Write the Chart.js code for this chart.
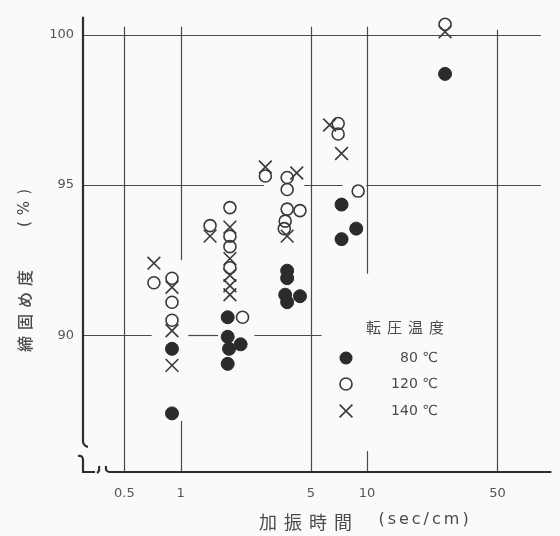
<!DOCTYPE html>
<html><head><meta charset="utf-8">
<script src="https://cdn.jsdelivr.net/npm/chart.js@4.4.1/dist/chart.umd.min.js"></script>
<style>html,body{margin:0;padding:0;background:#fafaf8;} canvas{display:block;}</style>
</head><body>
<canvas id="c" width="560" height="536"></canvas>
<script>
// ---- data ----
const xTicks = [0.5, 1, 5, 10, 50];
const xTickLabels = ['0.5', '1', '5', '10', '50'];
const yTicks = [90, 95, 100];
const yTickLabels = ['90', '95', '100'];
const seriesNames = ['80 ℃', '120 ℃', '140 ℃'];
const legendTitle = '転圧温度';
const xTitleMain = '加振時間';
const xTitleUnit = '(sec/cm)';
const yTitleMain = '締固め度';
const yTitleUnit = '(%)';

const x80 = [0.9, 0.9, 1.79, 1.79, 2.1, 1.82, 1.79, 3.73, 3.73, 3.64, 4.37, 3.73, 7.3, 8.75, 7.3, 26.2];
const y80 = [87.4, 89.55, 90.6, 89.95, 89.7, 89.55, 89.05, 92.15, 91.9, 91.35, 91.3, 91.1, 94.35, 93.55, 93.2, 98.7];

const x120 = [0.72, 0.9, 0.9, 0.9, 1.44, 1.84, 1.84, 1.84, 1.84, 2.15, 2.85, 3.73, 3.73, 3.73, 4.37, 3.64, 3.6, 7.0, 7.0, 8.96, 26.2];
const y120 = [91.75, 91.9, 91.1, 90.5, 93.65, 94.25, 93.3, 92.95, 92.25, 90.6, 95.3, 95.25, 94.85, 94.2, 94.15, 93.8, 93.55, 97.05, 96.7, 94.8, 100.35];

const x140 = [0.72, 0.9, 0.9, 0.9, 1.44, 1.84, 1.84, 1.84, 1.84, 1.84, 2.85, 4.2, 3.73, 6.3, 7.3, 26.2];
const y140 = [92.4, 91.6, 90.15, 89.0, 93.3, 93.6, 92.55, 92.0, 91.65, 91.35, 95.6, 95.4, 93.3, 97.0, 96.05, 100.1];

const pts = (xs, ys) => xs.map((v, i) => ({x: v, y: ys[i]}));

const INK = '#3a3a3a';
const TXT = '#4a4a4a';

const decor = {
  id: 'decor',
  beforeDraw(chart) {
    const ctx = chart.ctx;
    ctx.save();
    ctx.fillStyle = '#fafaf8';
    ctx.fillRect(0, 0, chart.width, chart.height);
    ctx.restore();
  },
  beforeDatasetsDraw(chart, args, o) {
    const {ctx, chartArea: a, scales: {x, y}} = chart;
    ctx.save();
    ctx.strokeStyle = '#4a4a4a';
    ctx.lineWidth = 1.2;
    ctx.lineCap = 'butt';
    const seg = (x0, y0, x1, y1) => { ctx.beginPath(); ctx.moveTo(x0, y0); ctx.lineTo(x1, y1); ctx.stroke(); };
    o.vLines.forEach(([v, spans]) => {
      const px = Math.round(x.getPixelForValue(v)) + 0.5;
      spans.forEach(([a0, a1]) => seg(px, y.getPixelForValue(a0 === null ? y.min : a0), px, y.getPixelForValue(a1)));
    });
    o.hLines.forEach(([v, spans]) => {
      const py = Math.round(y.getPixelForValue(v)) + 0.5;
      spans.forEach(([b0, b1]) => seg(b0 === null ? a.left : x.getPixelForValue(b0), py, x.getPixelForValue(b1), py));
    });
    // axes with break mark
    const L = a.left, B = a.bottom, T = a.top, R = a.right;
    ctx.strokeStyle = '#2e2e2e';
    ctx.lineWidth = 2.2;
    ctx.beginPath();
    ctx.moveTo(L, T); ctx.lineTo(L, B - 30);
    ctx.quadraticCurveTo(L + 1, B - 26, L + 5, B - 25);
    ctx.stroke();
    ctx.beginPath();
    ctx.moveTo(L - 5, B - 16);
    ctx.quadraticCurveTo(L, B - 17, L, B - 12);
    ctx.lineTo(L, B);
    ctx.lineTo(L + 12, B);
    ctx.stroke();
    ctx.beginPath();
    ctx.moveTo(L + 14, B + 1);
    ctx.quadraticCurveTo(L + 17, B - 1, L + 16, B - 6);
    ctx.stroke();
    ctx.beginPath();
    ctx.moveTo(L + 23, B - 6);
    ctx.quadraticCurveTo(L + 22, B, L + 27, B);
    ctx.lineTo(R + 2, B);
    ctx.stroke();
    ctx.restore();
  },
  afterDatasetsDraw(chart, args, o) {
    const {ctx} = chart;
    ctx.save();
    ctx.fillStyle = TXT;
    ctx.textBaseline = 'middle';
    // legend
    ctx.textAlign = 'center';
    ctx.font = '15px "Noto Sans CJK JP"';
    if ('letterSpacing' in ctx) ctx.letterSpacing = '6px';
    ctx.fillText(legendTitle, 408, 327);
    if ('letterSpacing' in ctx) ctx.letterSpacing = '0px';
    const ly = [358, 384, 411];
    const sx = 346;
    ctx.fillStyle = '#2b2b2b';
    ctx.beginPath(); ctx.arc(sx, ly[0], 6.5, 0, Math.PI * 2); ctx.fill();
    ctx.strokeStyle = INK; ctx.lineWidth = 1.6;
    ctx.beginPath(); ctx.arc(sx, ly[1], 6, 0, Math.PI * 2); ctx.stroke();
    const r = 6.4;
    ctx.beginPath();
    ctx.moveTo(sx - r, ly[2] - r); ctx.lineTo(sx + r, ly[2] + r);
    ctx.moveTo(sx + r, ly[2] - r); ctx.lineTo(sx - r, ly[2] + r);
    ctx.stroke();
    ctx.fillStyle = TXT;
    ctx.textAlign = 'right';
    ctx.font = '14px "DejaVu Sans"';
    seriesNames.forEach((s, i) => ctx.fillText(s, 438, ly[i]));
    // x title
    ctx.textAlign = 'center';
    ctx.font = '18px "Noto Sans CJK JP"';
    if ('letterSpacing' in ctx) ctx.letterSpacing = '7px';
    ctx.fillText(xTitleMain, 309, 522);
    ctx.font = '16px "DejaVu Sans"';
    if ('letterSpacing' in ctx) ctx.letterSpacing = '3px';
    ctx.fillText(xTitleUnit, 425, 520);
    // y title (rotated)
    ctx.translate(25, 0);
    ctx.rotate(-Math.PI / 2);
    ctx.font = '500 16px "Noto Sans CJK JP"';
    if ('letterSpacing' in ctx) ctx.letterSpacing = '6px';
    ctx.fillText(yTitleMain, -308, 0);
    ctx.font = '15px "DejaVu Sans"';
    ctx.fillText(yTitleUnit, -205, 0);
    ctx.restore();
  }
};

new Chart(document.getElementById('c'), {
  type: 'scatter',
  data: {
    datasets: [
      {label: seriesNames[0], data: pts(x80, y80), pointStyle: 'circle', pointRadius: 6.5,
       backgroundColor: '#2b2b2b', borderColor: '#2b2b2b', borderWidth: 1},
      {label: seriesNames[1], data: pts(x120, y120), pointStyle: 'circle', pointRadius: 6,
       backgroundColor: 'rgba(0,0,0,0)', borderColor: INK, borderWidth: 1.6},
      {label: seriesNames[2], data: pts(x140, y140), pointStyle: 'crossRot', pointRadius: 9,
       backgroundColor: INK, borderColor: INK, borderWidth: 1.6}
    ]
  },
  options: {
    responsive: false,
    animation: false,
    events: [],
    layout: {padding: {left: 0, right: 4, top: 10, bottom: 0}},
    plugins: {
      legend: {display: false},
      tooltip: {enabled: false},
      decor: {
        vLines: [
          [0.5, [[null, 100.27]]],
          [1, [[null, 87.15], [92.5, 100.27]]],
          [5, [[null, 100.27]]],
          [10, [[null, 86.15], [92.05, 100.27]]],
          [50, [[null, 100.17]]]
        ],
        hLines: [
          [100, [[null, 85.4]]],
          [95, [[null, 2.8], [4.6, 7.4], [9.9, 85.4]]],
          [90, [[null, 0.7], [1.1, 1.59], [2.49, 5.7]]]
        ]
      }
    },
    scales: {
      x: {
        type: 'logarithmic', min: 0.3, max: 95,
        grid: {display: false, drawTicks: false}, border: {display: false},
        afterBuildTicks: s => { s.ticks = xTicks.map(v => ({value: v})); },
        afterFit: s => { s.height = 64; },
        ticks: {padding: 14, color: '#555', font: {family: 'DejaVu Sans', size: 13},
                autoSkip: false, maxRotation: 0,
                callback: (v, i) => xTickLabels[i]}
      },
      y: {
        type: 'linear', min: 85.45, max: 100.6,
        grid: {display: false, drawTicks: false}, border: {display: false},
        afterBuildTicks: s => { s.ticks = yTicks.map(v => ({value: v})); },
        afterFit: s => { s.width = 83; },
        ticks: {padding: 9, color: '#555', font: {family: 'DejaVu Sans', size: 13},
                callback: (v, i) => yTickLabels[i]}
      }
    }
  },
  plugins: [decor]
});
</script>
</body></html>
